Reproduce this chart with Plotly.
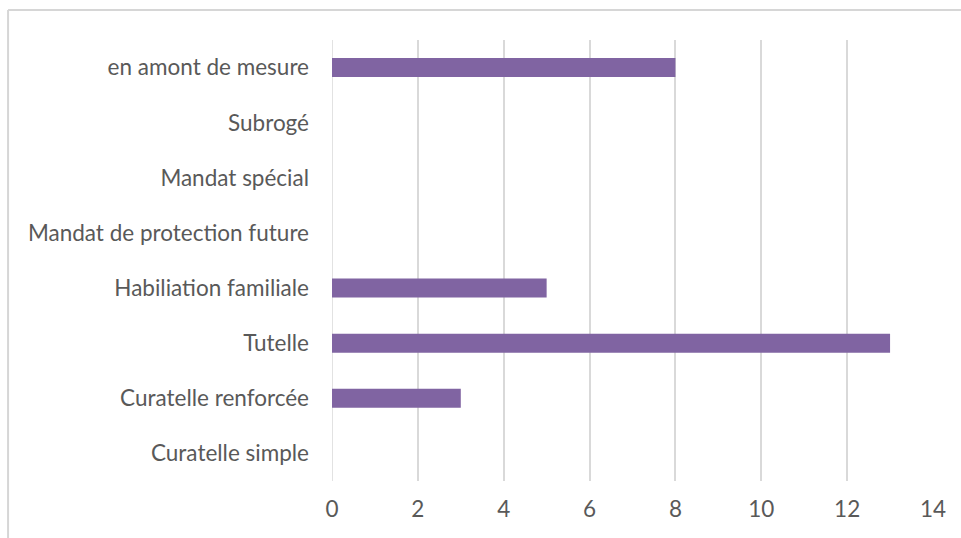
import plotly.graph_objects as go

# Mesures de protection, du bas vers le haut
categories = [
    "Curatelle simple",
    "Curatelle renforcée",
    "Tutelle",
    "Habiliation familiale",
    "Mandat de protection future",
    "Mandat spécial",
    "Subrogé",
    "en amont de mesure",
]
values = [0, 3, 13, 5, 0, 0, 0, 8]
x_ticks = [0, 2, 4, 6, 8, 10, 12, 14]

BAR_COLOR = "#8064A2"
GRID_COLOR = "#d9d9d9"
TEXT_COLOR = "#595959"
FONT = "Lato, Open Sans, sans-serif"
FONT_SIZE = 22.5

fig = go.Figure(
    go.Bar(
        y=categories,
        x=values,
        orientation="h",
        marker=dict(color=BAR_COLOR, line=dict(width=0)),
        width=0.345,
    )
)

fig.update_layout(
    width=961,
    height=538,
    margin=dict(l=332, r=28, t=40, b=57),
    paper_bgcolor="white",
    plot_bgcolor="white",
    showlegend=False,
    font=dict(family=FONT, size=FONT_SIZE, color=TEXT_COLOR),
    xaxis=dict(
        range=[0, 14],
        tickvals=x_ticks,
        showgrid=True,
        gridcolor=GRID_COLOR,
        gridwidth=1.5,
        zeroline=False,
        showline=False,
        ticks="",
        ticklabelstandoff=12,
        tickfont=dict(size=FONT_SIZE, color=TEXT_COLOR),
    ),
    yaxis=dict(
        categoryorder="array",
        categoryarray=categories,
        range=[-0.5, 7.5],
        showgrid=False,
        zeroline=False,
        showline=False,
        ticks="",
        ticklabelstandoff=22,
        tickfont=dict(size=FONT_SIZE, color=TEXT_COLOR),
    ),
    shapes=[
        # chart frame (top and left edges visible)
        dict(type="line", xref="paper", yref="paper",
             x0=-0.539, x1=1.2, y0=1.068, y1=1.068,
             line=dict(color="#d6d6d6", width=2)),
        dict(type="line", xref="paper", yref="paper",
             x0=-0.539, x1=-0.539, y0=1.068, y1=-0.3,
             line=dict(color="#d6d6d6", width=2)),
        # vertical line at zero
        dict(type="line", xref="x", yref="paper",
             x0=0, x1=0, y0=0, y1=1,
             line=dict(color=GRID_COLOR, width=1.5), layer="below"),
    ],
)

fig.write_html("out.html")
